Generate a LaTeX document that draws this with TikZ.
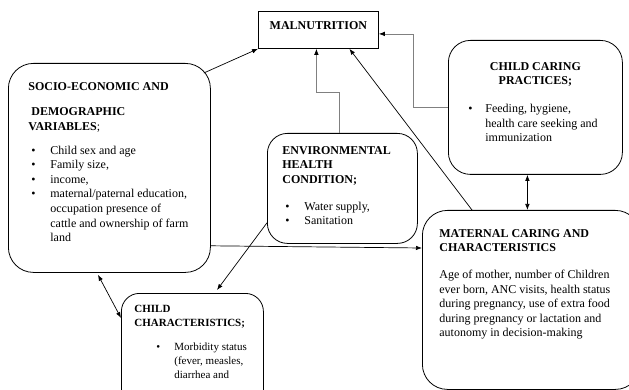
\documentclass[tikz,border=0pt]{standalone}
\usepackage{fontspec}
\setmainfont{Liberation Serif}
\usetikzlibrary{arrows.meta}

\tikzset{
  box/.style={draw, line width=0.8pt, rounded corners=22pt, inner sep=0pt, anchor=north west,
    font=\fontsize{12}{14.6}\selectfont},
  link/.style={-{Latex[length=6pt,width=4.5pt]}, line width=0.7pt},
  twolink/.style={{Latex[length=6pt,width=4.5pt]}-{Latex[length=6pt,width=4.5pt]}, line width=0.7pt},
  greylink/.style={-{Latex[length=6pt,width=4.5pt,color=black]}, line width=0.7pt, draw=gray}
}
% bullet item: bullet indent, text indent, text
\newcommand{\bitemx}[3]{\par\hangindent=#2\hangafter=1\noindent\hskip#1\rlap{\textbullet}\hskip\dimexpr#2-#1\relax #3\par}
\newcommand{\bitem}[1]{\bitemx{3pt}{22pt}{#1}}

\begin{document}
\begin{tikzpicture}[x=1pt, y=-1pt]
  \useasboundingbox (0,0) rectangle (629,390);
  % outcome box
  \node[box, rounded corners=0pt, minimum width=120pt, minimum height=37pt] (mal) at (258,11)
    {\parbox[c][17pt][t]{110pt}{\centering\textbf{MALNUTRITION}}};
  % determinant boxes
  \node[box, rounded corners=25pt, minimum width=202pt, minimum height=209pt] (socio) at (8,63)
    {\parbox[c][171pt][t]{162pt}{\raggedright
      \textbf{SOCIO-ECONOMIC AND}\par\vspace{11pt}
      \hspace*{3pt}\textbf{DEMOGRAPHIC}\par
      \textbf{VARIABLES};\par\vspace{9pt}
      \bitem{Child sex and age}
      \bitem{Family size,}
      \bitem{income,}
      \bitem{maternal/paternal education,\newline occupation presence of\newline cattle and ownership of farm\newline land}}};
  \node[box, rounded corners=20pt, minimum width=150pt, minimum height=110pt] (env) at (267,133)
    {\parbox[c][84pt][t]{120pt}{\raggedright
      \textbf{ENVIRONMENTAL}\par\textbf{HEALTH}\par\textbf{CONDITION;}\par\vspace{12pt}
      \bitem{Water supply,}
      \bitem{Sanitation}}};
  \node[box, minimum width=174pt, minimum height=134pt] (cc) at (448,40)
    {\parbox[c][90pt][t]{144pt}{%
      {\centering\textbf{CHILD CARING}\par\textbf{PRACTICES;}\par}\vspace{13pt}
      \raggedright
      \bitemx{5pt}{22pt}{Feeding, hygiene,\newline health care seeking and\newline immunization}}};
  \node[box, rounded corners=25pt, minimum width=218pt, minimum height=179pt] (mat) at (422,210)
    {\parbox[c][141pt][t]{184pt}{\raggedright
      \textbf{MATERNAL CARING AND}\par\textbf{CHARACTERISTICS}\par\vspace{12pt}
      Age of mother, number of Children\\ever born, ANC visits, health status\\during pregnancy, use of extra food\\during pregnancy or lactation and\\autonomy in decision-making}};
  \node[box, rounded corners=18pt, minimum width=142pt, minimum height=115pt,
    font=\fontsize{11}{14}\selectfont] (child) at (121,293)
    {\parbox[c][91pt][t]{116pt}{\raggedright
      \textbf{CHILD}\par\textbf{CHARACTERISTICS;}\par\vspace{10pt}
      \bitemx{22pt}{40pt}{Morbidity status\newline (fever, measles,\newline diarrhea and}}};
  % connectors
  \draw[link] ([xshift=-7pt,yshift=-10pt]socio.north east) -- (mal.south west);
  \draw[greylink] ([xshift=-3pt]env.north) -- ++(0,-41) -| ([xshift=-2pt]mal.south);
  \draw[link] ([xshift=50pt]mat.north west) -- ([xshift=31pt]mal.south);
  \draw[greylink] (cc.west) -- ++(-35,0) |- ([yshift=-4pt]mal.east);
  \draw[twolink] ([xshift=-8pt]cc.south) -- ([xshift=-8pt]cc.south |- mat.north);
  \draw[link] ([yshift=27pt]socio.south east) -- ([yshift=-38pt]mat.north west);
  \draw[link] ([yshift=21pt]env.south west) -- ([xshift=96pt,yshift=3pt]child.north west);
  \draw[twolink] ([xshift=90pt,yshift=-2pt]socio.south west) -- ([yshift=-25pt]child.north west);
\end{tikzpicture}
\end{document}
